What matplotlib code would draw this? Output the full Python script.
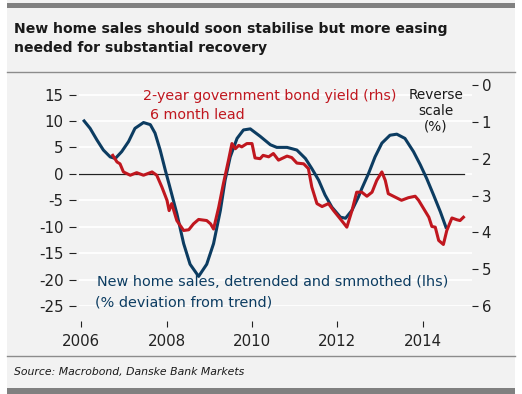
import numpy as np
import matplotlib
matplotlib.use("Agg")
from matplotlib import pyplot as plt
from matplotlib.patches import Rectangle
from matplotlib.lines import Line2D

# New home sales, detrended and smoothed (lhs, % deviation from trend)
sales_x = [2006.07, 2006.21, 2006.37, 2006.52, 2006.68, 2006.80, 2006.95, 2007.11,
           2007.26, 2007.46, 2007.62, 2007.73, 2007.85, 2007.97, 2008.06, 2008.24,
           2008.40, 2008.55, 2008.75, 2008.94, 2009.10, 2009.26, 2009.37, 2009.49,
           2009.65, 2009.80, 2009.96, 2010.19, 2010.43, 2010.58, 2010.82, 2011.05,
           2011.25, 2011.40, 2011.56, 2011.71, 2011.87, 2012.07, 2012.19, 2012.34,
           2012.49, 2012.57, 2012.73, 2012.88, 2013.04, 2013.23, 2013.39, 2013.58,
           2013.78, 2013.94, 2014.09, 2014.25, 2014.41, 2014.54]
sales_y = [10.0, 8.6, 6.4, 4.5, 3.2, 2.9, 4.2, 6.1,
           8.6, 9.7, 9.3, 7.7, 4.5, 0.7, -2.0, -7.5,
           -13.2, -17.1, -19.4, -17.1, -13.2, -6.9, -1.2, 3.2,
           6.7, 8.3, 8.5, 7.1, 5.5, 5.0, 5.0, 4.5,
           2.9, 1.0, -1.2, -4.0, -6.3, -8.2, -8.4, -6.9,
           -4.4, -2.8, 0.1, 3.2, 5.8, 7.3, 7.5, 6.7,
           4.2, 1.7, -0.9, -4.0, -7.2, -10.1]

# 2-year government bond yield (rhs, reverse scale, 6 month lead)
yield_x = [2006.74, 2006.84, 2006.91, 2006.99, 2007.15, 2007.30, 2007.46, 2007.66,
           2007.77, 2007.89, 2008.01, 2008.06, 2008.12, 2008.24, 2008.40, 2008.52,
           2008.63, 2008.75, 2008.94, 2009.03, 2009.10, 2009.22, 2009.33, 2009.45,
           2009.53, 2009.61, 2009.69, 2009.76, 2009.88, 2010.00, 2010.07, 2010.19,
           2010.26, 2010.39, 2010.50, 2010.62, 2010.82, 2010.93, 2011.05, 2011.21,
           2011.32, 2011.40, 2011.52, 2011.64, 2011.79, 2011.91, 2012.07, 2012.22,
           2012.34, 2012.45, 2012.57, 2012.69, 2012.81, 2012.92, 2013.04, 2013.12,
           2013.19, 2013.31, 2013.50, 2013.66, 2013.82, 2013.90, 2014.02, 2014.14,
           2014.21, 2014.29, 2014.37, 2014.48, 2014.56, 2014.68, 2014.80, 2014.87,
           2014.95]
yield_y = [1.91, 2.09, 2.14, 2.36, 2.45, 2.38, 2.45, 2.36,
           2.45, 2.77, 3.13, 3.41, 3.22, 3.68, 3.95, 3.93,
           3.77, 3.65, 3.68, 3.77, 3.91, 3.32, 2.68, 2.04,
           1.59, 1.73, 1.64, 1.68, 1.59, 1.59, 1.98, 2.00,
           1.91, 1.95, 1.86, 2.04, 1.93, 1.97, 2.12, 2.14,
           2.27, 2.77, 3.22, 3.30, 3.22, 3.41, 3.64, 3.86,
           3.41, 2.91, 2.91, 3.02, 2.91, 2.59, 2.36, 2.59,
           2.95, 3.02, 3.13, 3.06, 3.02, 3.13, 3.36, 3.59,
           3.84, 3.86, 4.22, 4.33, 3.95, 3.61, 3.66, 3.68,
           3.59]

left_ticks = [15, 10, 5, 0, -5, -10, -15, -20, -25]
right_ticks = [0, 1, 2, 3, 4, 5, 6]
year_ticks = [2006, 2008, 2010, 2012, 2014]

BLUE = "#0c3c61"
RED = "#c0171f"
PANEL = "#f2f2f2"
W, H = 522, 394

plt.rcParams["axes.unicode_minus"] = False
plt.rcParams["font.family"] = ["DejaVu Sans"]


def fx(px):
	return px / W


def fy(py):
	return 1 - py / H


fig = plt.figure(figsize=(5.22, 3.94), dpi=100)
fig.patch.set_facecolor("white")

# panel background and rules
fig.patches.append(Rectangle((fx(7), 0), fx(508), 1, transform=fig.transFigure,
							 facecolor=PANEL, edgecolor="none", zorder=-10))
fig.patches.append(Rectangle((fx(7), fy(7.5)), fx(508), 4.5 / H, transform=fig.transFigure,
							 facecolor="#808080", edgecolor="none", zorder=-5))
fig.patches.append(Rectangle((fx(7), 0), fx(508), 6 / H, transform=fig.transFigure,
							 facecolor="#808080", edgecolor="none", zorder=-5))
for yy in (72, 356):
	fig.lines.append(Line2D([fx(7), fx(515)], [fy(yy), fy(yy)], transform=fig.transFigure,
							color="#8c8c8c", lw=1.0))

fig.text(fx(14), fy(22), "New home sales should soon stabilise but more easing\nneeded for substantial recovery",
		 fontsize=10.1, fontweight="semibold", color="#1a1a1a", va="top", ha="left", linespacing=1.45)
fig.text(fx(14), fy(372), "Source: Macrobond, Danske Bank Markets", fontsize=7.8, style="italic",
		 color="#1a1a1a", va="center", ha="left")

ax = fig.add_axes([fx(79), fy(306), fx(393), (306 - 85) / H])
ax.set_facecolor("none")
ax.set_xlim(2005.95, 2015.15)
ax.set_ylim(-25, 16.8)
ax.set_yticks(left_ticks)
ax.set_yticklabels([str(t) for t in left_ticks])
ax.set_xticks(year_ticks)
ax.set_xticklabels([str(t) for t in year_ticks])
for s in ax.spines.values():
	s.set_visible(False)
ax.spines["bottom"].set_position(("outward", 11))
ax.spines["left"].set_position(("outward", 2))
ax.tick_params(axis="y", length=5, width=0.8, pad=4, labelsize=10.8, colors="#222222")
ax.tick_params(axis="x", length=4, width=0.8, pad=5, labelsize=10.8, colors="#222222")
ax.yaxis.grid(True, color="white", lw=1.3)
ax.set_axisbelow(True)
ax.axhline(0, xmin=0, xmax=0.98, color="#222222", lw=0.9, zorder=1)
ax.plot(sales_x, sales_y, color=BLUE, lw=2.2, solid_joinstyle="round", zorder=3)

ax2 = ax.twinx()
ax2.set_ylim(6, 0)
ax2.set_yticks(right_ticks)
ax2.set_yticklabels([str(t) for t in right_ticks])
for s in ax2.spines.values():
	s.set_visible(False)
ax2.tick_params(axis="y", length=4, width=0.8, pad=3, labelsize=10.8, colors="#222222")
ax2.plot(yield_x, yield_y, color=RED, lw=2.2, solid_joinstyle="round", zorder=3)

fig.text(fx(143), fy(96), "2-year government bond yield (rhs)", color=RED, fontsize=10.3,
		 ha="left", va="center")
fig.text(fx(150), fy(115), "6 month lead", color=RED, fontsize=10.3, ha="left", va="center")
fig.text(fx(436), fy(111), "Reverse\nscale\n(%)", color="#1a1a1a", fontsize=9.8, ha="center",
		 va="center", linespacing=1.15)
fig.text(fx(97), fy(282), "New home sales, detrended and smmothed (lhs)", color=BLUE, fontsize=10.4,
		 ha="left", va="center")
fig.text(fx(95), fy(302), "(% deviation from trend)", color=BLUE, fontsize=10.4, ha="left", va="center")

fig.savefig("out.png", dpi=100, facecolor="white")
